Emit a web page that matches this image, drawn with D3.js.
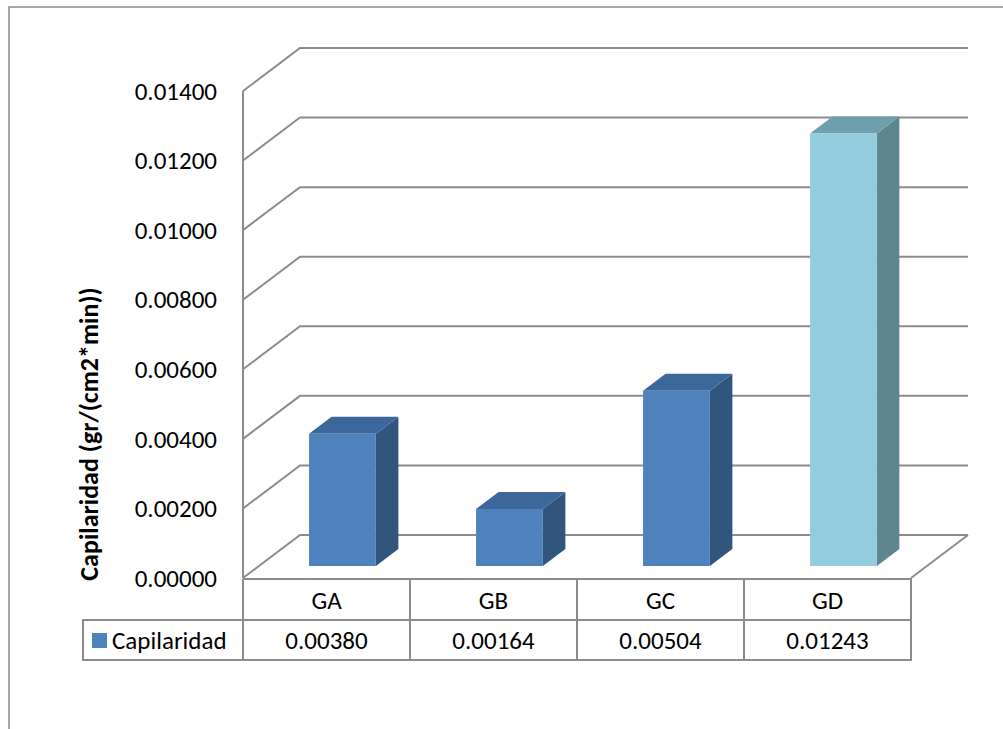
<!DOCTYPE html>
<html>
<head>
<meta charset="utf-8">
<script src="https://cdn.jsdelivr.net/npm/d3@7"></script>
<style>
  body { margin: 0; background: #fff; }
  text { font-family: Carlito, Calibri, Lato, "Open Sans", sans-serif; fill: #000; }
</style>
</head>
<body>
<svg class="main-svg" width="1003" height="729"></svg>
<script>
const categories = ["GA", "GB", "GC", "GD"];
const values = [0.00380, 0.00164, 0.00504, 0.01243];
const valueLabels = ["0.00380", "0.00164", "0.00504", "0.01243"];
const seriesName = "Capilaridad";
const yTicks = [0, 0.002, 0.004, 0.006, 0.008, 0.010, 0.012, 0.014];
const yTitle = "Capilaridad (gr/(cm2*min))";

// face colours per bar: front, top, side
const faceColors = [
  ["#4f81bd", "#3c679a", "#32557e"],
  ["#4f81bd", "#3c679a", "#32557e"],
  ["#4f81bd", "#3c679a", "#32557e"],
  ["#93cddd", "#6f9fac", "#5e8690"]
];

const svg = d3.select(".main-svg");
const grid = "#8c8c8c";
const fs = "25px";

// depth of the floor (pixels)
const DX = 57, DY = 43;

const y = d3.scaleLinear().domain([0, 0.014]).range([578, 91]);
const x = d3.scaleBand().domain(categories).range([243, 911])
  .paddingInner(0.6).paddingOuter(0.3);

// project a point at depth z (0 front, 1 back)
const px = (xv, z) => xv + z * DX;
const py = (v, z) => y(v) - z * DY;

// outer frame
svg.append("path")
  .attr("d", "M9,729 V7 H1003")
  .attr("fill", "none")
  .attr("stroke", "#8c8c8c")
  .attr("stroke-width", 1.5);

// walls: gridlines on side + back wall
const walls = svg.append("g")
  .attr("fill", "none")
  .attr("stroke", grid)
  .attr("stroke-width", 2);

walls.selectAll("path.grid")
  .data(yTicks)
  .join("path")
    .attr("class", "grid")
    .attr("d", d => `M${px(243, 0)},${py(d, 0)} L${px(243, 1)},${py(d, 1)} H${px(911, 1)}`);

// vertical axis line
walls.append("line")
  .attr("x1", 243).attr("x2", 243)
  .attr("y1", y(0.014)).attr("y2", y(0));

// floor right edge
walls.append("line")
  .attr("x1", px(911, 0)).attr("y1", py(0, 0))
  .attr("x2", px(911, 1)).attr("y2", py(0, 1));

// y tick labels
svg.append("g")
  .selectAll("text")
  .data(yTicks)
  .join("text")
    .attr("x", 217)
    .attr("y", d => y(d))
    .attr("dy", "0.35em")
    .attr("text-anchor", "end")
    .style("font-size", fs)
    .text(d3.format(".5f"));

// y title
svg.append("text")
  .attr("transform", "translate(98,434) rotate(-90)")
  .attr("text-anchor", "middle")
  .style("font-size", "26px")
  .style("font-weight", "bold")
  .text(yTitle);

// 3d bars
const z0 = 0.28, z1 = 0.675;
const bars = svg.append("g")
  .selectAll("g")
  .data(values.map((v, i) => ({ cat: categories[i], v, c: faceColors[i] })))
  .join("g");

bars.each(function(d) {
  const g = d3.select(this);
  const xl = x(d.cat), xr = x(d.cat) + x.bandwidth();
  // side
  g.append("path")
    .attr("fill", d.c[2])
    .attr("d", `M${px(xr, z0)},${py(0, z0)} L${px(xr, z1)},${py(0, z1)} L${px(xr, z1)},${py(d.v, z1)} L${px(xr, z0)},${py(d.v, z0)} Z`);
  // top
  g.append("path")
    .attr("fill", d.c[1])
    .attr("d", `M${px(xl, z0)},${py(d.v, z0)} L${px(xl, z1)},${py(d.v, z1)} L${px(xr, z1)},${py(d.v, z1)} L${px(xr, z0)},${py(d.v, z0)} Z`);
  // front
  g.append("path")
    .attr("fill", d.c[0])
    .attr("d", `M${px(xl, z0)},${py(0, z0)} L${px(xr, z0)},${py(0, z0)} L${px(xr, z0)},${py(d.v, z0)} L${px(xl, z0)},${py(d.v, z0)} Z`);
});

// data table
const rowTop = 579, rowMid = 620, rowBot = 660;
const cols = categories.map(c => x(c) - x.step() * x.paddingOuter());
const table = svg.append("g")
  .attr("stroke", grid)
  .attr("stroke-width", 2)
  .attr("fill", "none");

table.append("path")
  .attr("d", `M243,${rowTop} H911 V${rowBot} H83 V${rowMid} H911`);
table.selectAll("line.col")
  .data(cols)
  .join("line")
    .attr("class", "col")
    .attr("x1", d => d).attr("x2", d => d)
    .attr("y1", rowTop).attr("y2", rowBot);

svg.append("g")
  .selectAll("text")
  .data(categories)
  .join("text")
    .attr("x", (d, i) => cols[i] + x.step() / 2)
    .attr("y", (rowTop + rowMid) / 2 + 1)
    .attr("dy", "0.35em")
    .attr("text-anchor", "middle")
    .style("font-size", fs)
    .text(d => d);

svg.append("g")
  .selectAll("text")
  .data(valueLabels)
  .join("text")
    .attr("x", (d, i) => cols[i] + x.step() / 2)
    .attr("y", (rowMid + rowBot) / 2)
    .attr("dy", "0.35em")
    .attr("text-anchor", "middle")
    .style("font-size", fs)
    .text(d => d);

// legend key in table
svg.append("rect")
  .attr("x", 92).attr("y", 633)
  .attr("width", 15).attr("height", 15)
  .attr("fill", faceColors[0][0]);
svg.append("text")
  .attr("x", 112)
  .attr("y", (rowMid + rowBot) / 2)
  .attr("dy", "0.35em")
  .style("font-size", fs)
  .text(seriesName);
</script>
</body>
</html>
